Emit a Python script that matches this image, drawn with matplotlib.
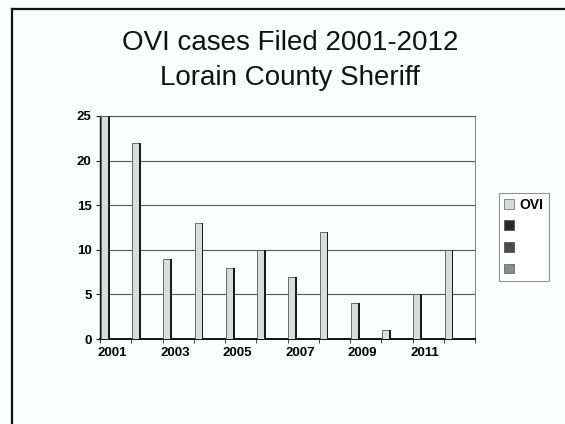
import numpy as np
import matplotlib.pyplot as plt
from matplotlib.patches import Patch
from matplotlib.lines import Line2D

plt.rcParams['font.family'] = ['Liberation Sans', 'DejaVu Sans']

# data
years = [2001, 2002, 2003, 2004, 2005, 2006, 2007, 2008, 2009, 2010, 2011, 2012]
ovi = [25, 22, 9, 13, 8, 10, 7, 12, 4, 1, 5, 10]
yticks = [0, 5, 10, 15, 20, 25]

fig = plt.figure(figsize=(5.65, 4.24), dpi=100)
fig.patch.set_facecolor('#fcfdfd')

# slide border (left and top only visible in the scan)
fig.add_artist(Line2D([12/565, 12/565], [0, 1 - 9/424], color='#111111', lw=1.6))
fig.add_artist(Line2D([12/565, 1], [1 - 9/424, 1 - 9/424], color='#111111', lw=1.6))

fig.text(0.513, 1 - 43/424, 'OVI cases Filed 2001-2012', ha='center', va='center',
         fontsize=20, color='#111111')
fig.text(0.513, 1 - 78/424, 'Lorain County Sheriff', ha='center', va='center',
         fontsize=20, color='#111111')

ax = fig.add_axes([100/565, 1 - 339/424, 375/565, 223/424])
ax.set_facecolor('#fcfdfd')

x = np.arange(len(years))
ax.bar(x + 0.03, ovi, width=0.22, align='edge', color='#d9dcdd',
       edgecolor='#555555', linewidth=0.6, zorder=3)
ax.bar(x + 0.25, ovi, width=0.06, align='edge', color='#1a1a1a',
       linewidth=0, zorder=3)

ax.set_xlim(0, 12)
ax.set_ylim(0, 25)
ax.set_yticks(yticks)
ax.set_yticklabels([str(v) for v in yticks], fontsize=9.5, fontweight='bold')
ax.yaxis.grid(True, color='#555555', lw=0.8, zorder=0)

ax.set_xticks(x[::2] + 0.4)
ax.set_xticklabels([str(y) for y in years[::2]], fontsize=9.5, fontweight='bold')
ax.set_xticks(np.arange(0, 13), minor=True)
ax.tick_params(axis='x', which='major', length=0, pad=6)
ax.tick_params(axis='x', which='minor', length=3, direction='out', color='#222222')
ax.tick_params(axis='y', length=3, direction='out', color='#222222', pad=3)

ax.spines['left'].set_color('#111111')
ax.spines['left'].set_linewidth(1.0)
ax.spines['bottom'].set_color('#111111')
ax.spines['bottom'].set_linewidth(1.4)
ax.spines['right'].set_color('#888888')
ax.spines['right'].set_linewidth(0.8)
ax.spines['top'].set_color('#555555')
ax.spines['top'].set_linewidth(0.8)

handles = [Patch(facecolor='#d6d9da', edgecolor='#777777', lw=0.6),
           Patch(facecolor='#2a2a2a', edgecolor='#555555', lw=0.6),
           Patch(facecolor='#4a4a4a', edgecolor='#555555', lw=0.6),
           Patch(facecolor='#8a8d8e', edgecolor='#666666', lw=0.6)]
leg = fig.legend(handles, ['OVI', '', '', ''], loc='center left',
                 bbox_to_anchor=(499/565, 1 - 237/424), frameon=True,
                 fancybox=False, edgecolor='#777777',
                 prop={'weight': 'bold', 'size': 10},
                 handlelength=0.7, handleheight=0.7, handletextpad=0.45,
                 labelspacing=0.55, borderpad=0.35, borderaxespad=0)
leg.get_frame().set_linewidth(0.8)

plt.savefig('out.png', dpi=100, facecolor=fig.get_facecolor())
